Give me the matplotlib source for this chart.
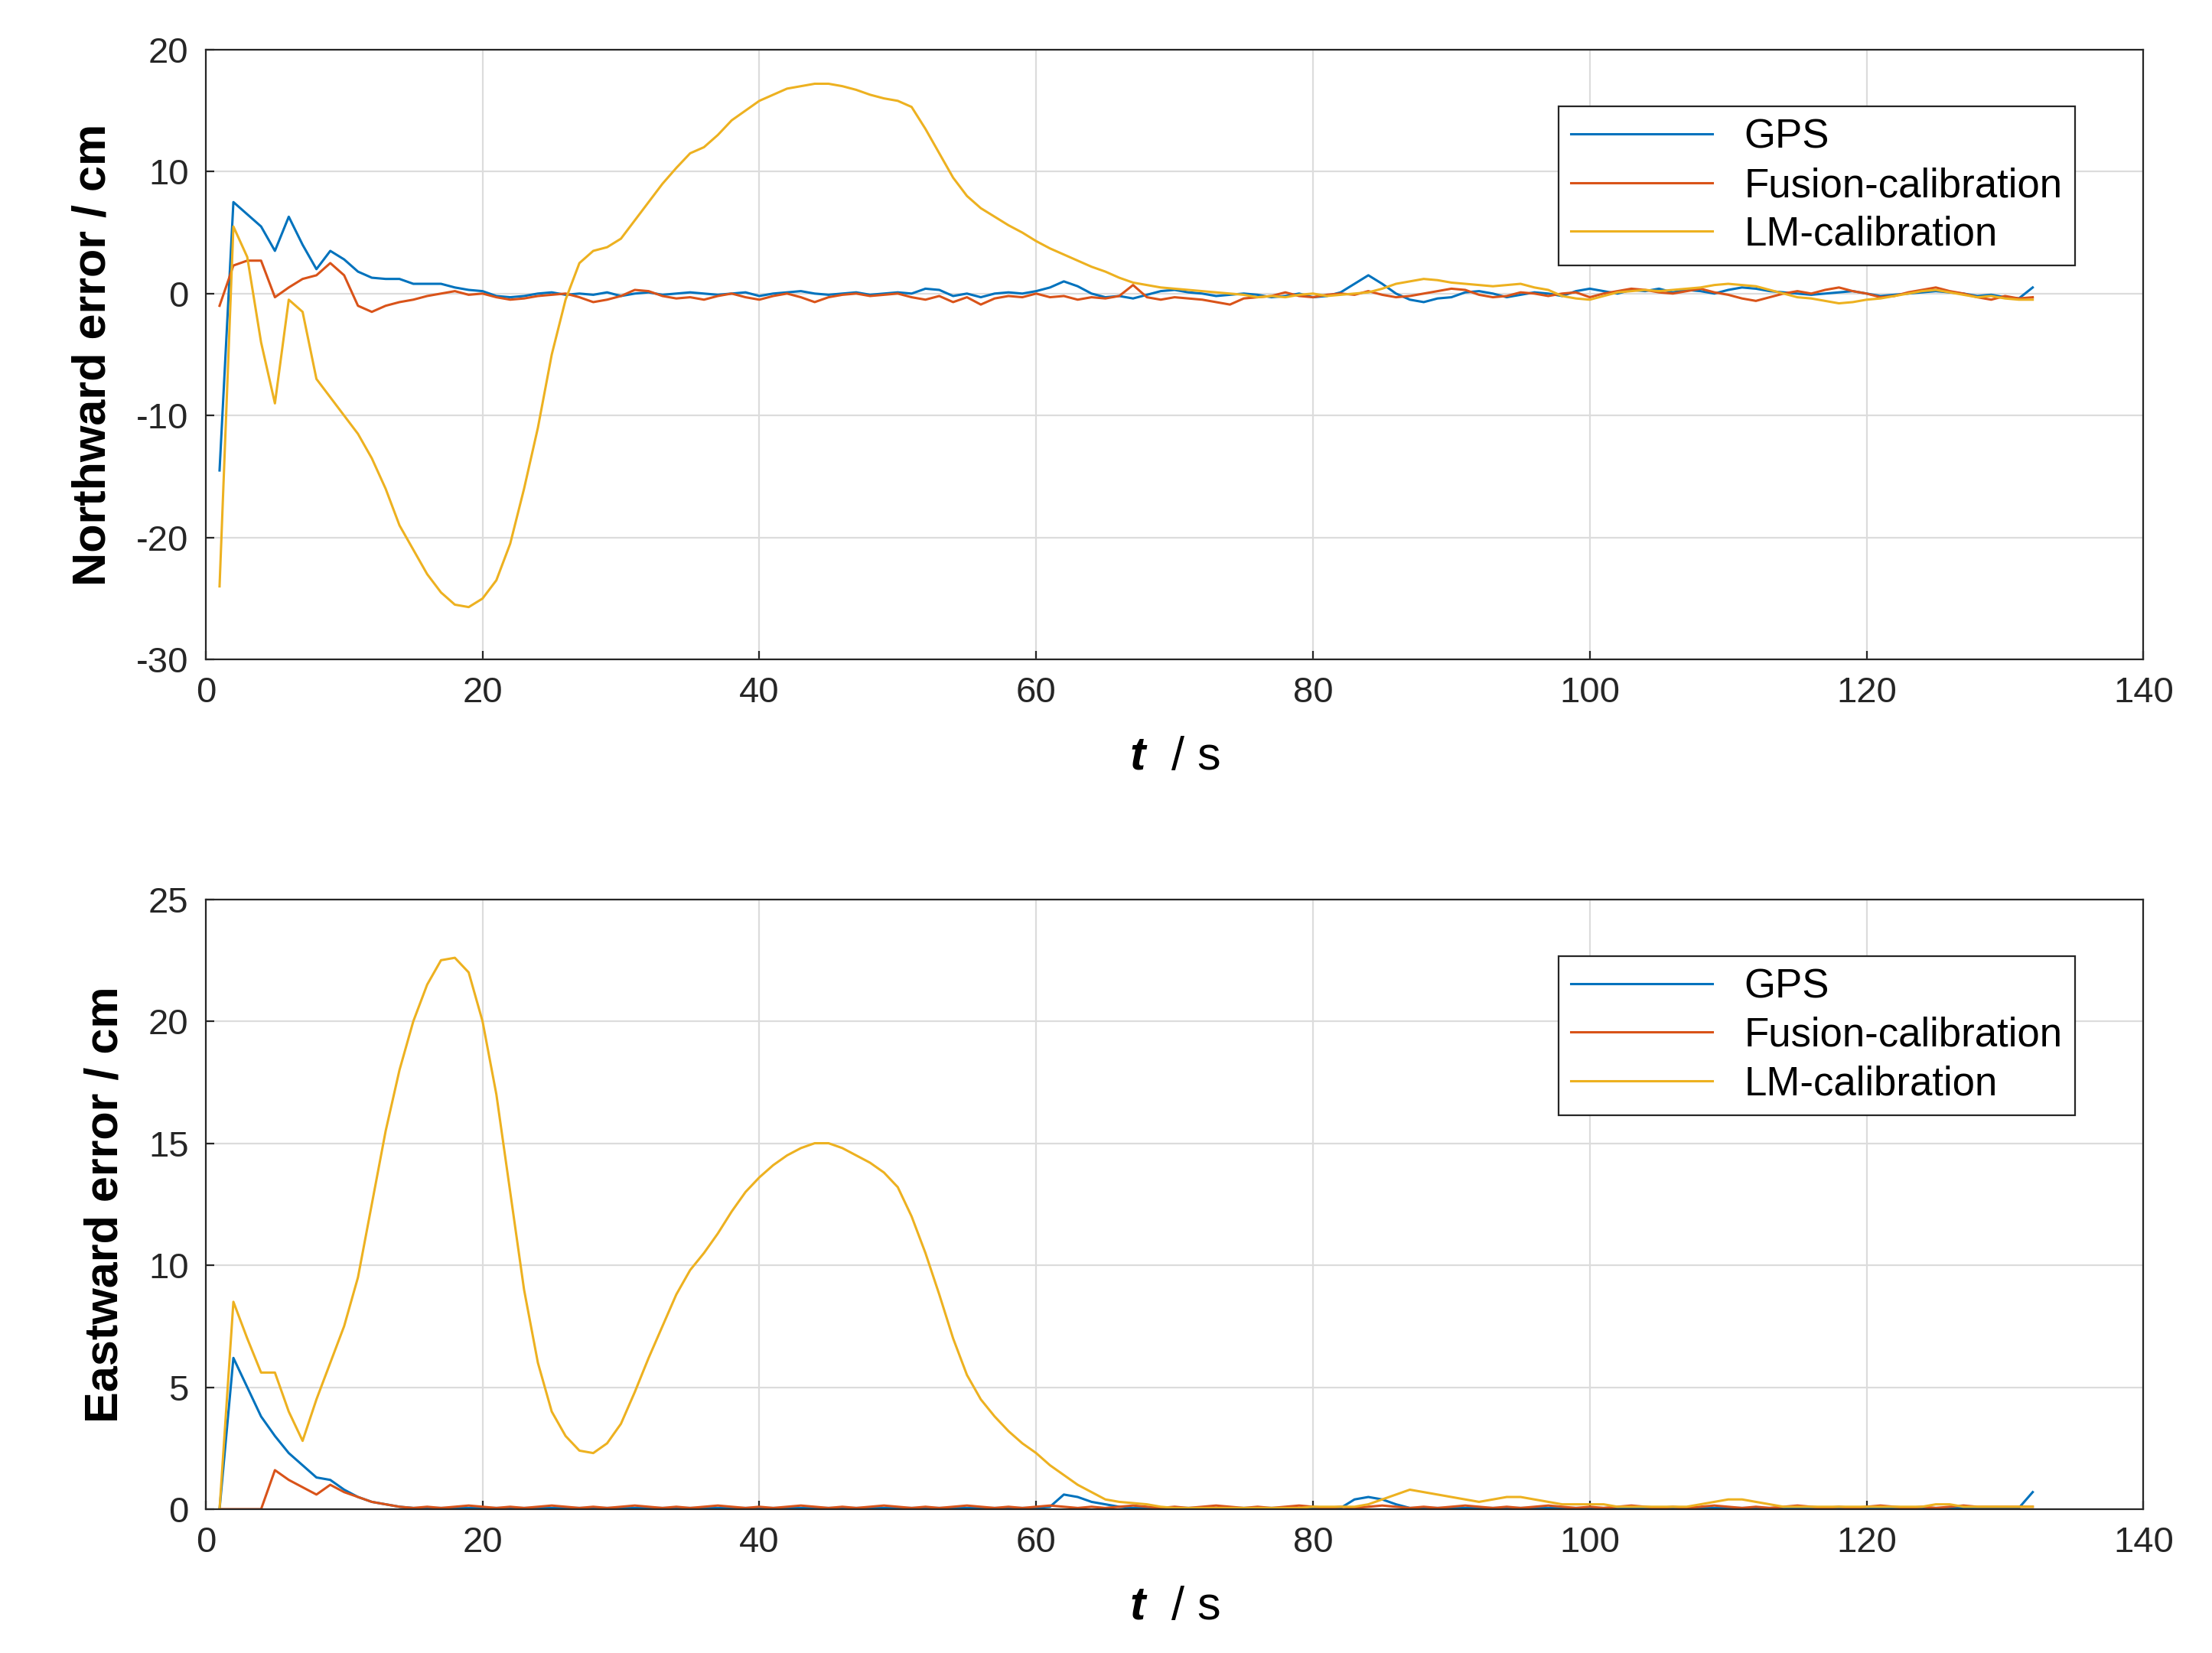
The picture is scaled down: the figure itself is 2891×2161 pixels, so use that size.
import numpy as np
import matplotlib
matplotlib.use("Agg")
import matplotlib.pyplot as plt

plt.rcParams['font.family'] = ['Liberation Sans', 'DejaVu Sans']
plt.rcParams['axes.unicode_minus'] = False
plt.rcParams['mathtext.fontset'] = 'custom'
plt.rcParams['mathtext.bfit'] = 'Liberation Sans:italic:bold'

t = np.arange(1, 133)

north_gps = [-14.5, 7.5, 6.5, 5.5, 3.5, 6.3, 4.0, 2.0, 3.5, 2.8, 1.8, 1.3, 1.2, 1.2, 0.8, 0.8, 0.8, 0.5, 0.3, 0.2,
             -0.2, -0.3, -0.2, 0.0, 0.1, -0.1, 0.0, -0.1, 0.1, -0.2, 0.0, 0.1, -0.1, 0.0, 0.1, 0.0, -0.1, 0.0, 0.1, -0.2,
             0.0, 0.1, 0.2, 0.0, -0.1, 0.0, 0.1, -0.1, 0.0, 0.1, 0.0, 0.4, 0.3, -0.2, 0.0, -0.3, 0.0, 0.1, 0.0, 0.2,
             0.5, 1.0, 0.6, 0.0, -0.3, -0.2, -0.4, -0.1, 0.2, 0.3, 0.1, 0.0, -0.2, -0.1, 0.0, -0.1, -0.3, -0.2, 0.0, -0.3,
             -0.2, 0.1, 0.8, 1.5, 0.8, 0.0, -0.5, -0.7, -0.4, -0.3, 0.1, 0.2, 0.0, -0.3, -0.1, 0.1, 0.0, -0.2, 0.2, 0.4,
             0.2, 0.0, 0.3, 0.2, 0.4, 0.1, 0.3, 0.2, 0.0, 0.3, 0.5, 0.4, 0.2, 0.1, 0.0, -0.1, 0.0, 0.1, 0.2, 0.0,
             -0.2, -0.1, 0.0, 0.1, 0.2, 0.1, 0.0, -0.2, -0.1, -0.3, -0.4, 0.5]
north_fusion = [-1.0, 2.3, 2.7, 2.7, -0.3, 0.5, 1.2, 1.5, 2.5, 1.5, -1.0, -1.5, -1.0, -0.7, -0.5, -0.2, 0.0, 0.2, -0.1, 0.0,
                -0.3, -0.5, -0.4, -0.2, -0.1, 0.0, -0.3, -0.7, -0.5, -0.2, 0.3, 0.2, -0.2, -0.4, -0.3, -0.5, -0.2, 0.0, -0.3, -0.5,
                -0.2, 0.0, -0.3, -0.7, -0.3, -0.1, 0.0, -0.2, -0.1, 0.0, -0.3, -0.5, -0.2, -0.7, -0.3, -0.9, -0.4, -0.2, -0.3, 0.0,
                -0.3, -0.2, -0.5, -0.3, -0.4, -0.2, 0.7, -0.3, -0.5, -0.3, -0.4, -0.5, -0.7, -0.9, -0.4, -0.3, -0.2, 0.1, -0.2, -0.3,
                -0.1, 0.0, -0.1, 0.2, -0.1, -0.3, -0.2, 0.0, 0.2, 0.4, 0.3, -0.1, -0.3, -0.2, 0.1, 0.0, -0.2, 0.0, 0.1, -0.3,
                0.0, 0.2, 0.4, 0.3, 0.1, 0.0, 0.2, 0.4, 0.1, -0.1, -0.4, -0.6, -0.3, 0.0, 0.2, 0.0, 0.3, 0.5, 0.2, 0.0,
                -0.3, -0.2, 0.1, 0.3, 0.5, 0.2, 0.0, -0.3, -0.5, -0.2, -0.4, -0.3]
north_lm = [-24.0, 5.5, 3.0, -4.0, -9.0, -0.5, -1.5, -7.0, -8.5, -10.0, -11.5, -13.5, -16.0, -19.0, -21.0, -23.0, -24.5, -25.5, -25.7, -25.0,
            -23.5, -20.5, -16.0, -11.0, -5.0, -0.5, 2.5, 3.5, 3.8, 4.5, 6.0, 7.5, 9.0, 10.3, 11.5, 12.0, 13.0, 14.2, 15.0, 15.8,
            16.3, 16.8, 17.0, 17.2, 17.2, 17.0, 16.7, 16.3, 16.0, 15.8, 15.3, 13.5, 11.5, 9.5, 8.0, 7.0, 6.3, 5.6, 5.0, 4.3,
            3.7, 3.2, 2.7, 2.2, 1.8, 1.3, 0.9, 0.7, 0.5, 0.4, 0.3, 0.2, 0.1, 0.0, -0.1, -0.3, -0.2, -0.3, -0.1, 0.0,
            -0.2, -0.1, 0.0, 0.1, 0.4, 0.8, 1.0, 1.2, 1.1, 0.9, 0.8, 0.7, 0.6, 0.7, 0.8, 0.5, 0.3, -0.2, -0.4, -0.5,
            -0.2, 0.1, 0.2, 0.3, 0.2, 0.3, 0.4, 0.5, 0.7, 0.8, 0.7, 0.6, 0.3, 0.0, -0.3, -0.4, -0.6, -0.8, -0.7, -0.5,
            -0.4, -0.2, 0.0, 0.2, 0.3, 0.1, -0.1, -0.3, -0.2, -0.4, -0.5, -0.5]

east_gps = [0.0, 6.2, 5.0, 3.8, 3.0, 2.3, 1.8, 1.3, 1.2, 0.8, 0.5, 0.3, 0.2, 0.1] + [0.05] * 46 + \
           [0.1, 0.6, 0.5, 0.3, 0.2, 0.1] + [0.05] * 16 + [0.4, 0.5, 0.4, 0.2] + [0.05] * 45 + [0.7]
east_fusion = [0.0, 0.0, 0.0, 0.0, 1.6, 1.2, 0.9, 0.6, 1.0, 0.7, 0.5, 0.3, 0.2, 0.1] + \
              [0.05, 0.1, 0.05, 0.1, 0.15, 0.1] * 19 + [0.1] * 4
east_lm = [0.0, 8.5, 7.0, 5.6, 5.6, 4.0, 2.8, 4.5, 6.0, 7.5, 9.5, 12.5, 15.5, 18.0, 20.0, 21.5, 22.5, 22.6, 22.0, 20.0,
           17.0, 13.0, 9.0, 6.0, 4.0, 3.0, 2.4, 2.3, 2.7, 3.5, 4.8, 6.2, 7.5, 8.8, 9.8, 10.5, 11.3, 12.2, 13.0, 13.6,
           14.1, 14.5, 14.8, 15.0, 15.0, 14.8, 14.5, 14.2, 13.8, 13.2, 12.0, 10.5, 8.8, 7.0, 5.5, 4.5, 3.8, 3.2, 2.7, 2.3,
           1.8, 1.4, 1.0, 0.7, 0.4, 0.3, 0.25, 0.2, 0.1, 0.05, 0.05, 0.05, 0.05, 0.05, 0.05, 0.05, 0.05, 0.05, 0.05, 0.1,
           0.1, 0.1, 0.1, 0.2, 0.4, 0.6, 0.8, 0.7, 0.6, 0.5, 0.4, 0.3, 0.4, 0.5, 0.5, 0.4, 0.3, 0.2, 0.2, 0.2,
           0.2, 0.1, 0.1, 0.1, 0.1, 0.1, 0.1, 0.2, 0.3, 0.4, 0.4, 0.3, 0.2, 0.1, 0.1, 0.1, 0.1, 0.1, 0.1, 0.1,
           0.1, 0.1, 0.1, 0.1, 0.2, 0.2, 0.1, 0.1, 0.1, 0.1, 0.1, 0.1]

labels = ["GPS", "Fusion-calibration", "LM-calibration"]
colors = ["#0072BD", "#D95319", "#EDB120"]

fig = plt.figure(figsize=(14.455, 10.805), dpi=200)
ax1 = fig.add_axes([0.093, 0.601, 0.876, 0.369])
ax2 = fig.add_axes([0.093, 0.087, 0.876, 0.369])

panels = [
    (ax1, [north_gps, north_fusion, north_lm], "Northward error / cm", (-30, 20), np.arange(-30, 21, 10)),
    (ax2, [east_gps, east_fusion, east_lm], "Eastward error / cm", (0, 25), np.arange(0, 26, 5)),
]

for ax, series, ylab, ylim, yticks in panels:
    for y, lab, c in zip(series, labels, colors):
        ax.plot(t, y, color=c, lw=1.1, label=lab)
    ax.set_xlim(0, 140)
    ax.set_ylim(*ylim)
    ax.set_xticks(np.arange(0, 141, 20))
    ax.set_yticks(yticks)
    ax.grid(True, color="#dcdcdc", lw=0.8)
    ax.tick_params(labelsize=17, direction="in", length=4, colors="#262626", pad=8)
    for s in ax.spines.values():
        s.set_color("#262626")
        s.set_linewidth(0.8)
    ax.set_ylabel(ylab, fontsize=22, fontweight="bold", labelpad=10)
    ax.set_xlabel(r"$\mathbfit{t}$  / s", fontsize=22, labelpad=12)
    leg = ax.legend(loc="upper right", bbox_to_anchor=(0.975, 0.94), fontsize=19,
                    fancybox=False, edgecolor="#262626", framealpha=1,
                    handlelength=3.5, borderpad=0.3, labelspacing=0.25)
    leg.get_frame().set_linewidth(0.8)

fig.savefig("out.png", dpi=200)
